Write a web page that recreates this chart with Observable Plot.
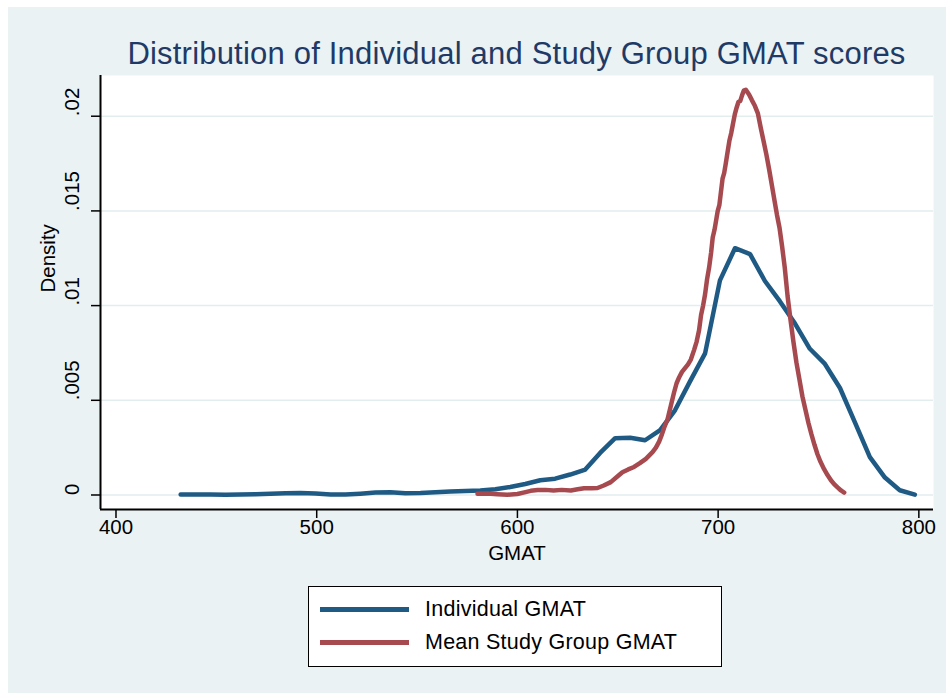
<!DOCTYPE html>
<html>
<head>
<meta charset="utf-8">
<script src="https://cdn.jsdelivr.net/npm/d3@7"></script>
<script src="https://cdn.jsdelivr.net/npm/@observablehq/plot@0.6"></script>
<style>
  html, body { margin: 0; padding: 0; background: #ffffff; }
  #page { position: relative; width: 946px; height: 693px; overflow: hidden; font-family: "Liberation Sans", Arial, sans-serif; }
  #bg { position: absolute; left: 8px; top: 7px; right: 0; bottom: 0; background: #eaf2f3; }
  #chart { position: absolute; left: 0; top: 0; }
  #title { position: absolute; left: 100px; width: 833px; top: 38px; text-align: center; font-size: 31px; line-height: 31px; letter-spacing: 0.2px; color: #1f3a66; white-space: nowrap; }
  #legend { position: absolute; left: 308px; top: 586px; width: 414px; height: 81px; box-sizing: border-box; border: 1.5px solid #000; background: #fff; }
  .sw { position: absolute; left: 11px; width: 89px; height: 5px; }
  .lt { position: absolute; left: 116px; font-size: 21.5px; line-height: 22px; letter-spacing: 0.25px; color: #000; white-space: nowrap; }
</style>
</head>
<body>
<div id="page">
  <div id="bg"></div>
  <div id="chart"></div>
  <div id="title"></div>
  <div id="legend"></div>
</div>
<script>
// ---- Data ----
const titleText = "Distribution of Individual and Study Group GMAT scores";
const xLabel = "GMAT";
const yLabel = "Density";
const seriesNames = ["Individual GMAT", "Mean Study Group GMAT"];
const seriesColors = ["#1f5a84", "#a64a4f"];

const xTicks = [400, 500, 600, 700, 800];
const yTicks = [0, 0.005, 0.01, 0.015, 0.02];
const yTickLabels = ["0", ".005", ".01", ".015", ".02"];

// Individual GMAT density (x, density)
const indivX = [432.2, 439.7, 447.1, 454.6, 462.1, 469.5, 477.0, 484.5, 491.9, 499.4,
  506.9, 514.3, 521.8, 529.3, 536.7, 544.2, 551.7, 559.1, 566.6, 574.0,
  581.5, 589.0, 596.4, 603.9, 611.4, 618.8, 626.3, 633.8, 641.2, 648.7,
  656.2, 663.6, 671.1, 678.5, 686.0, 693.5, 700.9, 708.4, 715.9, 723.3,
  730.8, 738.3, 745.7, 753.2, 760.7, 768.1, 775.6, 783.1, 790.5, 798.0];
const indivY = [0.00002, 0.00002, 0.00002, 0.00001, 0.00002, 0.00004, 0.00007, 0.00009, 0.00010, 0.00008,
  0.00003, 0.00002, 0.00007, 0.00013, 0.00014, 0.00009, 0.00011, 0.00015, 0.00019, 0.00021,
  0.00024, 0.00030, 0.00042, 0.00058, 0.00078, 0.00086, 0.00108, 0.00134, 0.00222, 0.00300,
  0.00302, 0.00289, 0.00343, 0.00447, 0.00600, 0.00748, 0.01133, 0.01303, 0.01272, 0.01130,
  0.01022, 0.00905, 0.00772, 0.00692, 0.00565, 0.00385, 0.00200, 0.00092, 0.00025, 0.00002];

// Mean Study Group GMAT density (x, density)
const groupX = [580.1, 585.0, 590.0, 595.0, 600.0, 603.5, 606.6, 610.0, 614.0, 618.0,
  622.0, 626.6, 630.0, 633.2, 637.0, 639.9, 643.0, 646.5, 649.5, 652.3,
  655.2, 658.1, 661.0, 664.0, 667.3, 669.0, 670.6, 672.0, 673.1, 674.8,
  676.4, 678.0, 679.3, 680.6, 682.0, 683.5, 685.0, 686.4, 688.0, 689.3,
  690.5, 691.5, 692.5, 693.5, 694.5, 695.5, 696.5, 697.3, 698.2, 699.0,
  699.8, 700.6, 701.4, 702.2, 703.0, 703.8, 704.7, 705.6, 706.5, 707.4,
  708.3, 709.2, 710.1, 711.0, 711.9, 712.8, 713.8, 715.4, 716.8, 718.3,
  719.8, 721.3, 722.6, 724.0, 725.4, 726.7, 728.0, 729.3, 730.6, 731.9,
  733.2, 734.6, 736.0, 737.5, 739.0, 740.5, 742.0, 743.5, 745.0, 746.5,
  748.0, 749.5, 751.0, 752.8, 754.5, 756.2, 757.8, 759.5, 761.2, 762.8];
const groupY = [0.00007, 0.00008, 0.00004, 0.00001, 0.00005, 0.00014, 0.00022, 0.00026, 0.00027, 0.00024,
  0.00027, 0.00024, 0.00030, 0.00036, 0.00035, 0.00037, 0.00050, 0.00068, 0.00095, 0.00120,
  0.00135, 0.00148, 0.00168, 0.00191, 0.00226, 0.00250, 0.00282, 0.00320, 0.00355, 0.00400,
  0.00470, 0.00540, 0.00590, 0.00622, 0.00650, 0.00670, 0.00690, 0.00715, 0.00765, 0.00810,
  0.00870, 0.00950, 0.01000, 0.01060, 0.01140, 0.01200, 0.01280, 0.01360, 0.01400, 0.01450,
  0.01500, 0.01530, 0.01600, 0.01670, 0.01700, 0.01750, 0.01810, 0.01870, 0.01910, 0.01960,
  0.02010, 0.02045, 0.02075, 0.02080, 0.02110, 0.02135, 0.02140, 0.02115, 0.02085, 0.02055,
  0.02015, 0.01935, 0.01870, 0.01800, 0.01720, 0.01640, 0.01560, 0.01480, 0.01410, 0.01310,
  0.01200, 0.01050, 0.00930, 0.00810, 0.00700, 0.00610, 0.00520, 0.00450, 0.00380, 0.00320,
  0.00265, 0.00215, 0.00175, 0.00136, 0.00105, 0.00078, 0.00057, 0.00040, 0.00024, 0.00013];

// ---- Build ----
const indiv = indivX.map((x, i) => ({x, y: indivY[i]}));
const group = groupX.map((x, i) => ({x, y: groupY[i]}));
const xDomain = [392.28, 807.3];
const yDomain = [-0.000766, 0.02215];
const font = "'Liberation Sans', Arial, sans-serif";

const chart = Plot.plot({
  width: 946,
  height: 580,
  marginLeft: 100,
  marginRight: 13,
  marginTop: 75,
  marginBottom: 71,
  style: {background: "transparent", fontFamily: font, color: "#000", overflow: "visible"},
  x: {domain: xDomain},
  y: {domain: yDomain},
  marks: [
    Plot.frame({fill: "#ffffff", stroke: null}),
    Plot.ruleY(yTicks, {stroke: "#e3edee", strokeWidth: 1.5}),
    Plot.line(indiv, {x: "x", y: "y", stroke: seriesColors[0], strokeWidth: 4.5, strokeLinecap: "round", strokeLinejoin: "round"}),
    Plot.line(group, {x: "x", y: "y", stroke: seriesColors[1], strokeWidth: 4.5, strokeLinecap: "round", strokeLinejoin: "round"}),
    Plot.axisX({ticks: xTicks, tickSize: 9, tickFormat: () => "", label: null, strokeWidth: 1.5}),
    Plot.axisY({ticks: yTicks, tickSize: 9, tickFormat: () => "", label: null, strokeWidth: 1.5}),
    Plot.ruleY([yDomain[0]], {stroke: "#000", strokeWidth: 2}),
    Plot.ruleX([xDomain[0]], {stroke: "#000", strokeWidth: 2}),
    Plot.text(xTicks, {x: d => d, text: d => String(d), frameAnchor: "bottom", dy: 24, fontSize: 20.5, fill: "#000"}),
    Plot.text(yTicks, {y: d => d, text: (d, i) => yTickLabels[i], frameAnchor: "left", dx: -28, rotate: -90, fontSize: 20.5, fill: "#000"}),
    Plot.text([xLabel], {text: d => d, frameAnchor: "bottom", dy: 50, fontSize: 20.5, fill: "#000"}),
    Plot.text([yLabel], {text: d => d, frameAnchor: "left", dx: -52, rotate: -90, fontSize: 20.5, fill: "#000"})
  ]
});
document.getElementById("chart").appendChild(chart);
document.getElementById("title").textContent = titleText;

const legend = document.getElementById("legend");
const rows = [22.5, 55.5];
seriesNames.forEach((name, i) => {
  const sw = document.createElement("div");
  sw.className = "sw";
  sw.style.top = (rows[i] - 2.5) + "px";
  sw.style.background = seriesColors[i];
  legend.appendChild(sw);
  const t = document.createElement("div");
  t.className = "lt";
  t.style.top = (rows[i] - 12) + "px";
  t.textContent = name;
  legend.appendChild(t);
});
</script>
</body>
</html>
